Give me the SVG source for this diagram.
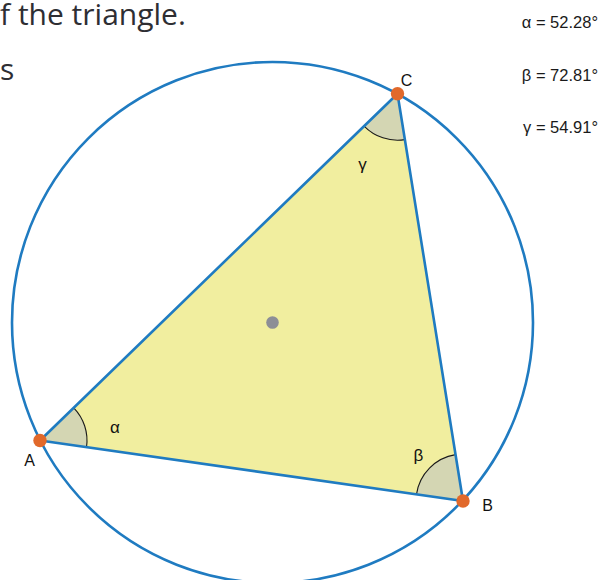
<svg xmlns="http://www.w3.org/2000/svg" width="599" height="580" viewBox="0 0 599 580">
<style>
.prose{font-family:"Open Sans","Noto Sans",sans-serif;font-size:30px;fill:#2e2e33}
.val{font-family:"Liberation Sans",Arial,sans-serif;font-size:16.5px;fill:#1a1a1a}
.lbl{font-family:"Liberation Sans",Arial,sans-serif;font-size:16px;fill:#111}
.greek{font-family:"Liberation Sans",Arial,sans-serif;font-size:17px;fill:#111}
.edge{stroke:#1f7bc1;stroke-width:2.6;fill:none;stroke-linejoin:round}
.wedge{fill:#d4d6b3;stroke:none}
.arc{fill:none;stroke:#1a1a1a;stroke-width:1.1}
.pt{fill:#e1692b}
</style>
<rect width="599" height="580" fill="#ffffff"/>
<text class="prose" x="0" y="25">f the triangle.</text>
<text class="prose" x="0" y="80">s</text>
<g id="circumcircle"><circle cx="272.5" cy="322.5" r="260.5" class="edge"/></g>
<g id="triangle">
<polygon points="40,440.5 463,501 397.5,93.7" fill="#f1ee9f" stroke="none"/>
</g>
<g id="angle-alpha">
<path class="wedge" d="M40,440.5 L86.53,447.15 A47,47 0 0 0 73.73,407.77 Z"/>
<path class="arc" d="M86.53,447.15 A47,47 0 0 0 73.73,407.77"/>
<text class="greek" x="115" y="433" text-anchor="middle">α</text>
</g>
<g id="angle-beta">
<path class="wedge" d="M463,501 L416.47,494.35 A47,47 0 0 1 455.54,454.6 Z"/>
<path class="arc" d="M416.47,494.35 A47,47 0 0 1 455.54,454.6"/>
<text class="greek" x="418.5" y="461" text-anchor="middle">β</text>
</g>
<g id="angle-gamma">
<path class="wedge" d="M397.5,93.7 L364.12,126.08 A46.5,46.5 0 0 0 404.88,139.61 Z"/>
<path class="arc" d="M364.12,126.08 A46.5,46.5 0 0 0 404.88,139.61"/>
<text class="greek" x="362.5" y="170" text-anchor="middle">γ</text>
</g>
<g id="connectors">
<polygon points="40,440.5 463,501 397.5,93.7" class="edge"/>
</g>
<g id="center"><circle cx="272.5" cy="322.5" r="6.3" fill="#8d8e96"/></g>
<g id="A"><circle cx="40" cy="440.5" r="6.7" class="pt"/><text class="lbl" x="29.5" y="466" text-anchor="middle">A</text></g>
<g id="B"><circle cx="463" cy="501" r="6.7" class="pt"/><text class="lbl" x="487.5" y="511" text-anchor="middle">B</text></g>
<g id="C"><circle cx="397.5" cy="93.7" r="6.7" class="pt"/><text class="lbl" x="406.5" y="86" text-anchor="middle">C</text></g>
<g id="values">
<text class="val" x="598" y="28" text-anchor="end">α = 52.28°</text>
<text class="val" x="598" y="81" text-anchor="end">β = 72.81°</text>
<text class="val" x="598" y="133" text-anchor="end">γ = 54.91°</text>
</g>
</svg>
